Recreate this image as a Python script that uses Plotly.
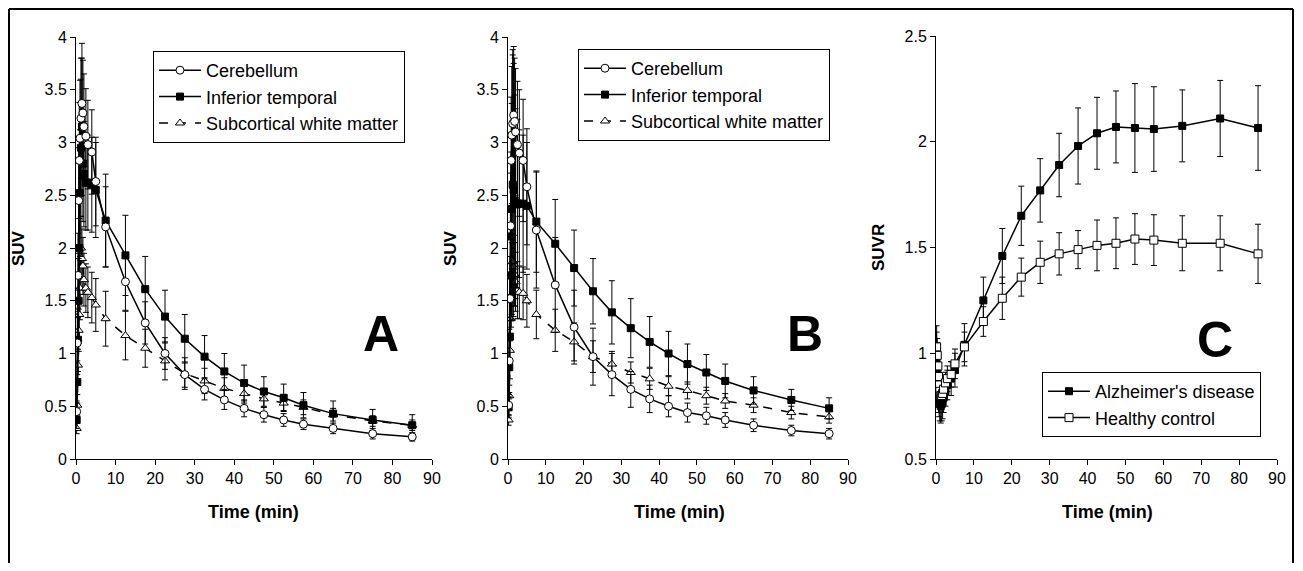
import plotly.graph_objects as go
from plotly.subplots import make_subplots

# frame mid-times (min)
time_min = [0.17, 0.33, 0.5, 0.67, 0.83, 1.0, 1.25, 1.5, 1.75, 2.0, 2.5, 3.0, 4.0, 5.0,
            7.5, 12.5, 17.5, 22.5, 27.5, 32.5, 37.5, 42.5, 47.5, 52.5, 57.5, 65, 75, 85]

# Panel A - SUV
a_cereb = [0.45, 1.1, 1.74, 2.45, 2.83, 3.04, 3.23, 3.37, 3.28, 3.15, 3.06, 2.98, 2.91, 2.63,
           2.2, 1.68, 1.29, 1.0, 0.8, 0.66, 0.56, 0.48, 0.42, 0.37, 0.33, 0.29, 0.24, 0.21]
a_cereb_sd = [0.1, 0.3, 0.4, 0.5, 0.55, 0.55, 0.57, 0.57, 0.5, 0.5, 0.45, 0.42, 0.4, 0.42,
              0.38, 0.27, 0.2, 0.15, 0.12, 0.1, 0.09, 0.08, 0.07, 0.06, 0.05, 0.05, 0.05, 0.04]
a_inftemp = [0.37, 0.73, 1.13, 1.5, 2.0, 2.52, 2.95, 3.15, 2.8, 2.7, 2.62, 2.62, 2.6, 2.55,
             2.26, 1.93, 1.61, 1.35, 1.14, 0.97, 0.83, 0.72, 0.64, 0.58, 0.51, 0.43, 0.37, 0.32]
a_inftemp_sd = [0.08, 0.2, 0.3, 0.4, 0.5, 0.6, 0.65, 0.65, 0.55, 0.5, 0.45, 0.45, 0.45, 0.45,
                0.44, 0.38, 0.31, 0.25, 0.23, 0.2, 0.17, 0.17, 0.14, 0.13, 0.12, 0.12, 0.1, 0.1]
a_wm = [0.29, 0.51, 0.89, 1.22, 1.37, 1.62, 2.0, 1.9, 1.83, 1.7, 1.62, 1.58, 1.53, 1.46,
        1.33, 1.17, 1.05, 0.93, 0.81, 0.74, 0.67, 0.62, 0.57, 0.53, 0.49, 0.42, 0.36, 0.32]
a_wm_sd = [0.05, 0.1, 0.15, 0.2, 0.25, 0.3, 0.3, 0.28, 0.27, 0.25, 0.23, 0.24, 0.24, 0.25,
           0.26, 0.23, 0.18, 0.18, 0.15, 0.12, 0.1, 0.09, 0.08, 0.07, 0.07, 0.06, 0.05, 0.05]

# Panel B - SUV
b_cereb = [0.51, 0.93, 1.52, 2.21, 2.83, 3.07, 3.18, 3.26, 3.2, 3.1, 2.98, 2.9, 2.83, 2.58,
           2.17, 1.65, 1.25, 0.97, 0.8, 0.66, 0.57, 0.5, 0.44, 0.41, 0.37, 0.32, 0.27, 0.24]
b_cereb_sd = [0.1, 0.3, 0.4, 0.5, 0.6, 0.65, 0.65, 0.65, 0.6, 0.6, 0.6, 0.6, 0.58, 0.55,
              0.55, 0.45, 0.35, 0.27, 0.2, 0.17, 0.13, 0.1, 0.09, 0.08, 0.07, 0.06, 0.05, 0.05]
b_inftemp = [0.49, 0.87, 1.16, 1.74, 2.11, 2.37, 2.6, 2.55, 2.45, 2.42, 2.42, 2.42, 2.42, 2.4,
             2.25, 2.04, 1.81, 1.59, 1.39, 1.24, 1.11, 1.0, 0.9, 0.82, 0.74, 0.65, 0.56, 0.48]
b_inftemp_sd = [0.1, 0.3, 0.4, 0.6, 0.8, 1.0, 1.28, 1.2, 1.0, 0.9, 0.8, 0.7, 0.65, 0.6,
                0.48, 0.42, 0.36, 0.31, 0.3, 0.28, 0.24, 0.21, 0.19, 0.17, 0.16, 0.13, 0.1, 0.1]
b_wm = [0.37, 0.6, 1.03, 1.33, 1.5, 1.75, 1.87, 1.82, 1.75, 1.68, 1.6, 1.58, 1.57, 1.5,
        1.37, 1.22, 1.11, 0.97, 0.9, 0.82, 0.76, 0.69, 0.65, 0.6, 0.55, 0.51, 0.44, 0.4]
b_wm_sd = [0.05, 0.1, 0.15, 0.2, 0.25, 0.3, 0.3, 0.3, 0.3, 0.28, 0.27, 0.25, 0.25, 0.25,
           0.23, 0.2, 0.18, 0.15, 0.12, 0.1, 0.1, 0.09, 0.08, 0.08, 0.07, 0.07, 0.06, 0.06]

# Panel C - SUVR
c_ad = [0.95, 0.93, 0.88, 0.82, 0.78, 0.76, 0.75, 0.76, 0.77, 0.79, 0.82, 0.85, 0.88, 0.92,
        1.04, 1.25, 1.46, 1.65, 1.77, 1.89, 1.98, 2.04, 2.07, 2.065, 2.06, 2.075, 2.11, 2.065]
c_ad_sd = [0.15, 0.12, 0.1, 0.1, 0.08, 0.08, 0.08, 0.08, 0.08, 0.07, 0.07, 0.07, 0.08, 0.08,
           0.1, 0.11, 0.13, 0.14, 0.15, 0.15, 0.18, 0.17, 0.17, 0.21, 0.2, 0.17, 0.18, 0.2]
c_hc = [1.03, 0.99, 0.94, 0.89, 0.85, 0.82, 0.8, 0.8, 0.81, 0.83, 0.86, 0.88, 0.9, 0.95,
        1.03, 1.15, 1.26, 1.36, 1.43, 1.47, 1.49, 1.51, 1.52, 1.54, 1.535, 1.52, 1.52, 1.47]
c_hc_sd = [0.1, 0.08, 0.07, 0.06, 0.06, 0.05, 0.05, 0.05, 0.05, 0.05, 0.05, 0.06, 0.06, 0.07,
           0.07, 0.07, 0.1, 0.09, 0.1, 0.1, 0.09, 0.12, 0.12, 0.12, 0.12, 0.13, 0.13, 0.14]

FONT = "Liberation Sans, Arial, sans-serif"
OFF = 8  # page body margin
W, H = 1303 - 2 * OFF, 571 - 2 * OFF


def px(x):
    return (x - OFF) / W


def py(y):
    return 1 - (y - OFF) / H


fig = make_subplots(rows=1, cols=3)


def add_series(y, sd, col, name, legend, symbol, fill, dash="solid", size=8):
    fig.add_trace(go.Scatter(
        x=time_min, y=y, name=name, mode="lines+markers",
        line=dict(color="black", width=1.5, dash=dash),
        marker=dict(symbol=symbol, size=size, color=fill, line=dict(color="black", width=1)),
        error_y=dict(type="data", array=sd, color="black", thickness=1, width=3),
        legend=legend, legendgroup=name + legend,
    ), row=1, col=col)


add_series(a_wm, a_wm_sd, 1, "Subcortical white matter", "legend", "triangle-up", "white", "dash")
add_series(a_inftemp, a_inftemp_sd, 1, "Inferior temporal", "legend", "square", "black", size=7)
add_series(a_cereb, a_cereb_sd, 1, "Cerebellum", "legend", "circle", "white")

add_series(b_wm, b_wm_sd, 2, "Subcortical white matter", "legend2", "triangle-up", "white", "dash")
add_series(b_inftemp, b_inftemp_sd, 2, "Inferior temporal", "legend2", "square", "black", size=7)
add_series(b_cereb, b_cereb_sd, 2, "Cerebellum", "legend2", "circle", "white")

add_series(c_ad, c_ad_sd, 3, "Alzheimer's disease", "legend3", "square", "black", size=7)
add_series(c_hc, c_hc_sd, 3, "Healthy control", "legend3", "square", "white", size=8)

# axis pixel positions -> paper domains
x_dom = [(76, 432), (508, 848), (936, 1277)]

axis_common = dict(showline=True, linecolor="black", linewidth=1, ticks="outside",
                   ticklen=5, tickcolor="black", showgrid=False, zeroline=False,
                   tickfont=dict(family=FONT, size=16, color="black"), automargin=False)

for i, (x0, x1) in enumerate(x_dom, start=1):
    fig.update_xaxes(domain=[px(x0), px(x1)], range=[0, 90], dtick=10, row=1, col=i, **axis_common)
    if i < 3:
        fig.update_yaxes(domain=[py(459), py(37)], range=[0, 4], dtick=0.5, row=1, col=i, **axis_common)
    else:
        fig.update_yaxes(domain=[py(459), py(36)], range=[0.5, 2.5], dtick=0.5, row=1, col=i, **axis_common)

legend_style = dict(font=dict(family=FONT, size=18, color="black"), bgcolor="rgba(255,255,255,0)",
                    bordercolor="black", borderwidth=1, xanchor="left", yanchor="top",
                    traceorder="reversed", tracegroupgap=0, itemwidth=42)


def label(x, y, text, size, angle=0):
    return dict(x=px(x), y=py(y), xref="paper", yref="paper", showarrow=False,
                xanchor="center", yanchor="middle", textangle=angle,
                text="<b>" + text + "</b>", font=dict(family=FONT, size=size, color="black"))


annotations = []
for xc in [253, 679, 1107]:
    annotations.append(label(xc, 512, "Time (min)", 18))
for xc, t in [(18, "SUV"), (450, "SUV"), (878, "SUVR")]:
    annotations.append(label(xc, 248, t, 17, -90))
for xc, yc, t in [(381, 334, "A"), (805, 334, "B"), (1215, 340, "C")]:
    annotations.append(label(xc, yc, t, 50))

# open frame round the whole figure (left, top, right)
frame = dict(type="line", xref="paper", yref="paper", line=dict(color="black", width=2))
shapes = [
    dict(frame, x0=px(9), x1=px(9), y0=0, y1=py(9)),
    dict(frame, x0=px(9), x1=px(1293), y0=py(9), y1=py(9)),
    dict(frame, x0=px(1293), x1=px(1293), y0=0, y1=py(9)),
]

fig.update_layout(
    width=W, height=H,
    margin=dict(l=0, r=0, t=0, b=0),
    paper_bgcolor="white", plot_bgcolor="rgba(0,0,0,0)",
    showlegend=True,
    legend=dict(x=px(153), y=py(51), **legend_style),
    legend2=dict(x=px(578), y=py(49), **legend_style),
    legend3=dict(x=px(1042), y=py(372), **dict(legend_style, traceorder="normal")),
    annotations=annotations,
    shapes=shapes,
)

fig.write_html("out.html")
